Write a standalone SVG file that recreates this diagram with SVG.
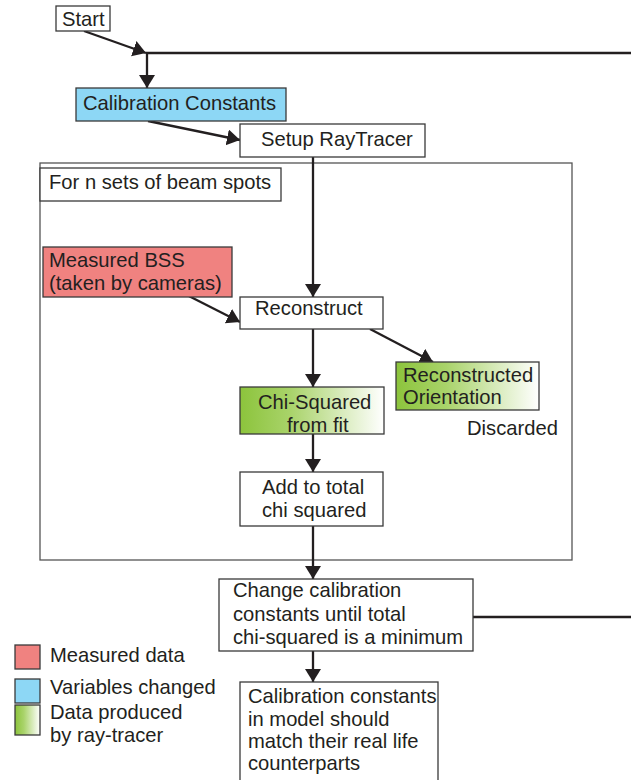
<svg xmlns="http://www.w3.org/2000/svg" width="631" height="780" viewBox="0 0 631 780">
<style>
text{font-family:"Liberation Sans",Arial,sans-serif;font-size:20.2px;fill:#231f20}
.box{stroke:#3a3a3a;stroke-width:1.3}
.w{fill:#fff}
.ln{stroke:#231f20;stroke-width:2.3;fill:none}
.arr{marker-end:url(#ah)}
</style>
<defs>
<marker id="ah" markerUnits="userSpaceOnUse" markerWidth="14" markerHeight="18" refX="13" refY="8" orient="auto">
<path d="M0,0 L13,8 L0,16 z" fill="#231f20"/>
</marker>
<linearGradient id="grn" x1="0" y1="0" x2="1" y2="0">
<stop offset="0" stop-color="#8cc43c"/>
<stop offset="0.35" stop-color="#a9d36a"/>
<stop offset="1" stop-color="#ffffff"/>
</linearGradient>
</defs>
<rect width="631" height="780" fill="#fff"/>

<g id="loop">
<rect x="40" y="163" width="532" height="397" fill="none" stroke="#555" stroke-width="1.3"/>
</g>

<g id="connectors">
<line class="ln arr" x1="84" y1="31" x2="146" y2="53"/>
<line class="ln" x1="146" y1="53" x2="631" y2="53"/>
<line class="ln arr" x1="147" y1="53" x2="147" y2="88"/>
<line class="ln arr" x1="148" y1="121" x2="240" y2="140"/>
<line class="ln arr" x1="313" y1="157" x2="313" y2="297"/>
<line class="ln arr" x1="177" y1="290" x2="240" y2="322"/>
<line class="ln arr" x1="313" y1="329" x2="313" y2="387"/>
<line class="ln arr" x1="370" y1="329" x2="433" y2="362"/>
<line class="ln arr" x1="313" y1="434" x2="313" y2="472"/>
<line class="ln arr" x1="313" y1="526" x2="313" y2="579"/>
<line class="ln" x1="473" y1="617" x2="631" y2="617"/>
<line class="ln arr" x1="313" y1="651" x2="313" y2="682"/>
</g>

<g id="start">
<rect class="box w" x="56" y="6" width="54" height="25"/>
<text x="62" y="26">Start</text>
</g>
<g id="calib">
<rect class="box" x="76" y="88" width="210" height="33" fill="#8dd7f5"/>
<text x="83" y="110">Calibration Constants</text>
</g>
<g id="setup">
<rect class="box w" x="240" y="124" width="185" height="33"/>
<text x="261" y="146">Setup RayTracer</text>
</g>
<g id="forn">
<rect class="box w" x="40" y="168" width="241" height="33"/>
<text x="49" y="189">For n sets of beam spots</text>
</g>
<g id="measured">
<rect class="box" x="43" y="247" width="189" height="50" fill="#f08280"/>
<text x="49" y="267">Measured BSS</text>
<text x="49" y="290">(taken by cameras)</text>
</g>
<g id="reconstruct">
<rect class="box w" x="240" y="297" width="143" height="32"/>
<text x="255" y="315">Reconstruct</text>
</g>
<g id="chi">
<rect class="box" x="240" y="387" width="144" height="47" fill="url(#grn)"/>
<text x="258" y="409">Chi-Squared</text>
<text x="287" y="432">from fit</text>
</g>
<g id="orient">
<rect class="box" x="396" y="362" width="143" height="48" fill="url(#grn)"/>
<text x="403" y="382">Reconstructed</text>
<text x="403" y="404">Orientation</text>
</g>
<g id="discarded">
<text x="467" y="435">Discarded</text>
</g>
<g id="add">
<rect class="box w" x="240" y="472" width="143" height="54"/>
<text x="262" y="494">Add to total</text>
<text x="262" y="517">chi squared</text>
</g>
<g id="change">
<rect class="box w" x="219" y="579" width="254" height="72"/>
<text x="233" y="597">Change calibration</text>
<text x="233" y="621">constants until total</text>
<text x="233" y="644">chi-squared is a minimum</text>
</g>
<g id="result">
<rect class="box w" x="240" y="682" width="198" height="110"/>
<text x="248" y="703">Calibration constants</text>
<text x="248" y="726">in model should</text>
<text x="248" y="748">match their real life</text>
<text x="248" y="770">counterparts</text>
</g>
<g id="legend">
<rect class="box" x="15" y="645" width="25" height="24" fill="#f08280"/>
<text x="50" y="662">Measured data</text>
<rect class="box" x="15" y="679" width="25" height="24" fill="#8dd7f5"/>
<text x="50" y="694">Variables changed</text>
<rect class="box" x="15" y="705" width="25" height="30" fill="url(#grn)"/>
<text x="50" y="719">Data produced</text>
<text x="50" y="742">by ray-tracer</text>
</g>
</svg>
